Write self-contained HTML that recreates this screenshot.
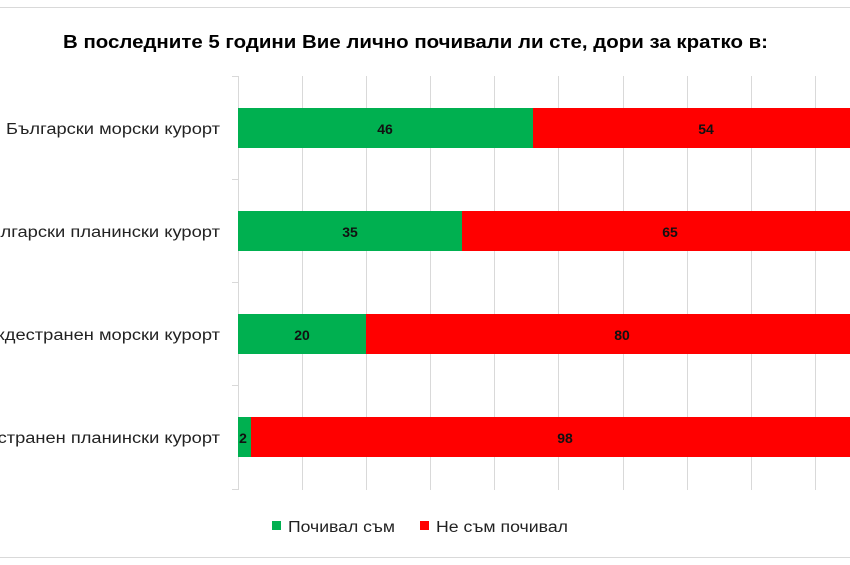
<!DOCTYPE html>
<html><head><meta charset="utf-8"><style>
body{margin:0;width:850px;height:565px;background:#fff;overflow:hidden;font-family:"Liberation Sans","DejaVu Sans",sans-serif}
</style></head><body>
<svg width="850" height="565" xmlns="http://www.w3.org/2000/svg" style="position:absolute;left:0;top:0">
<line x1="0" y1="7.5" x2="850" y2="7.5" stroke="#d9d9d9" stroke-width="1"/>
<line x1="0" y1="557.5" x2="850" y2="557.5" stroke="#d9d9d9" stroke-width="1"/>
<text x="63" y="48" font-size="18" font-weight="bold" fill="#000" textLength="705" lengthAdjust="spacingAndGlyphs" font-family="Liberation Sans, DejaVu Sans, sans-serif">В последните 5 години Вие лично почивали ли сте, дори за кратко в:</text>
<g stroke="#d9d9d9" stroke-width="1">
<line x1="302.5" y1="76" x2="302.5" y2="490"/>
<line x1="366.5" y1="76" x2="366.5" y2="490"/>
<line x1="430.5" y1="76" x2="430.5" y2="490"/>
<line x1="494.5" y1="76" x2="494.5" y2="490"/>
<line x1="558.5" y1="76" x2="558.5" y2="490"/>
<line x1="623.5" y1="76" x2="623.5" y2="490"/>
<line x1="687.5" y1="76" x2="687.5" y2="490"/>
<line x1="751.5" y1="76" x2="751.5" y2="490"/>
<line x1="815.5" y1="76" x2="815.5" y2="490"/>
<line x1="238.5" y1="76" x2="238.5" y2="490"/>
<line x1="232" y1="76.5" x2="238" y2="76.5"/>
<line x1="232" y1="179.5" x2="238" y2="179.5"/>
<line x1="232" y1="282.5" x2="238" y2="282.5"/>
<line x1="232" y1="385.5" x2="238" y2="385.5"/>
<line x1="232" y1="489.5" x2="238" y2="489.5"/>
</g>
<g font-size="15.5" font-family="Liberation Sans, DejaVu Sans, sans-serif" fill="#222" text-anchor="end" lengthAdjust="spacingAndGlyphs">
<text x="220" y="134" textLength="214" lengthAdjust="spacingAndGlyphs">Български морски курорт</text>
<text x="220" y="237" textLength="243" lengthAdjust="spacingAndGlyphs">Български планински курорт</text>
<text x="220" y="340" textLength="249" lengthAdjust="spacingAndGlyphs">Чуждестранен морски курорт</text>
<text x="220" y="443" textLength="277" lengthAdjust="spacingAndGlyphs">Чуждестранен планински курорт</text>
</g>
<rect x="238" y="108" width="295" height="40" fill="#00b050"/>
<rect x="533" y="108" width="346" height="40" fill="#ff0000"/>
<rect x="238" y="211" width="224" height="40" fill="#00b050"/>
<rect x="462" y="211" width="417" height="40" fill="#ff0000"/>
<rect x="238" y="314" width="128" height="40" fill="#00b050"/>
<rect x="366" y="314" width="513" height="40" fill="#ff0000"/>
<rect x="238" y="417" width="13" height="40" fill="#00b050"/>
<rect x="251" y="417" width="628" height="40" fill="#ff0000"/>
<g font-size="14" font-weight="bold" font-family="Liberation Sans, DejaVu Sans, sans-serif" fill="#111" text-anchor="middle">
<text x="385" y="134">46</text><text x="706" y="134">54</text>
<text x="350" y="237">35</text><text x="670" y="237">65</text>
<text x="302" y="340">20</text><text x="622" y="340">80</text>
<text x="243" y="443">2</text><text x="565" y="443">98</text>
</g>
<rect x="272" y="521" width="9" height="9" fill="#00b050"/>
<text x="288" y="532" font-size="15.5" fill="#222" textLength="107" lengthAdjust="spacingAndGlyphs" font-family="Liberation Sans, DejaVu Sans, sans-serif">Почивал съм</text>
<rect x="420" y="521" width="9" height="9" fill="#ff0000"/>
<text x="436" y="532" font-size="15.5" fill="#222" textLength="132" lengthAdjust="spacingAndGlyphs" font-family="Liberation Sans, DejaVu Sans, sans-serif">Не съм почивал</text>
</svg>
</body></html>
